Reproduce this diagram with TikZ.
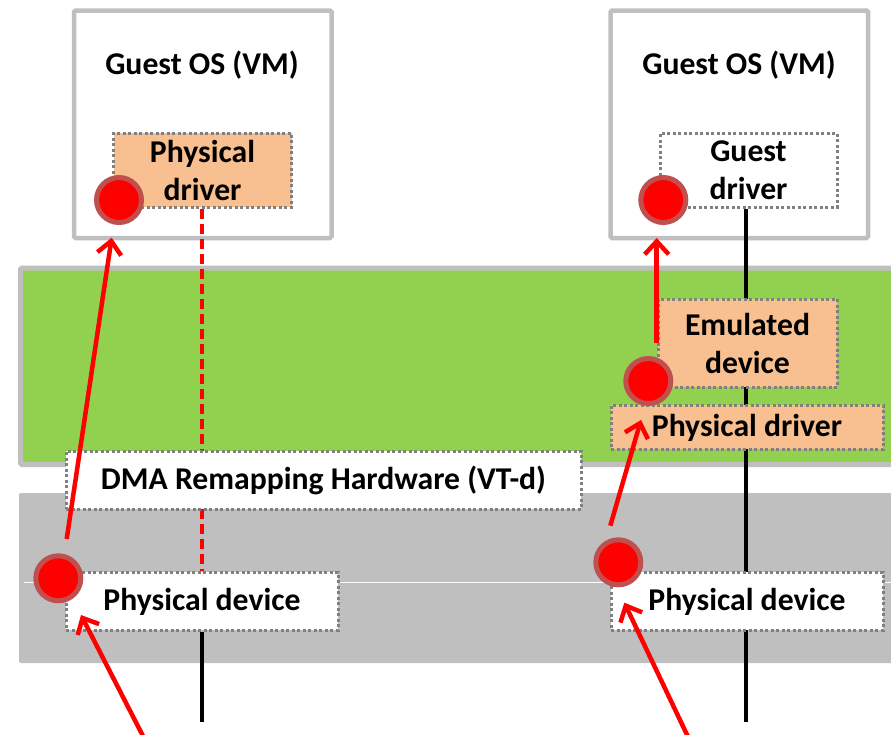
\documentclass[tikz,border=0pt]{standalone}
\usepackage{fontspec}
\setmainfont{Carlito}
\usetikzlibrary{arrows.meta}
\definecolor{bandgreen}{HTML}{92D050}
\definecolor{bandgray}{HTML}{BFBFBF}
\definecolor{boxorange}{HTML}{F8C090}
\definecolor{dotgray}{HTML}{808080}
\definecolor{ringred}{HTML}{C0504D}
\pgfdeclarelayer{bands}
\pgfdeclarelayer{wires}
\pgfsetlayers{bands,wires,main}
\begin{document}
\begin{tikzpicture}[x=1pt,y=-1pt,
  lbl/.style={font=\fontsize{31.7}{38}\selectfont\bfseries, text=black},
  osbox/.style={draw=bandgray, line width=4.5pt, fill=white, rounded corners=1.5pt, inner sep=0pt},
  dotbox/.style={draw=dotgray, line width=3pt, dash pattern=on 3pt off 2.5pt, inner sep=0pt, align=center, lbl},
  oneline/.style={text height=21.5pt, text depth=2pt},
  orangebox/.style={dotbox, fill=boxorange},
  whitebox/.style={dotbox, fill=white},
  reddot/.style={circle, fill=red, draw=ringred, line width=5pt, minimum size=45pt, inner sep=0pt},
  flow/.style={draw=red, line width=4.5pt, -{Straight Barb[length=13pt,width=24pt]}},
  wire/.style={draw=black, line width=4pt},
  dmaline/.style={draw=red, line width=3.5pt, dash pattern=on 10pt off 5pt}
]
\useasboundingbox (0,0) rectangle (891,734);
\begin{pgfonlayer}{bands}
% guest OS boxes
\node[osbox, minimum width=257.5pt, minimum height=227.5pt] (lgos) at (202.75,124.25) {};
\node[osbox, minimum width=257.5pt, minimum height=227.5pt] (rgos) at (739.25,124.25) {};
\node[lbl, anchor=base] (lgost) at (202,74) {Guest OS (VM)};
\node[lbl, anchor=base] (rgost) at (739,74) {Guest OS (VM)};
% bands
\path[draw=bandgray, line width=5pt, fill=bandgreen, rounded corners=1.5pt] (20.5,268) rectangle (905,464.5);
\path[fill=bandgray, rounded corners=2pt] (19,493) rectangle (905,663);
\draw[white, line width=1pt] (24,582) -- (905,582);
\end{pgfonlayer}
% coordinates
\coordinate (lbot) at (202,722);
\coordinate (rbot) at (746,722);
% boxes
\node[orangebox, minimum width=178pt, minimum height=74pt] (lpdrv) at (202.5,170) {Physical\\driver};
\node[whitebox, minimum width=177pt, minimum height=74pt] (gdrv) at (748.5,170) {Guest\\driver};
\node[orangebox, minimum width=179pt, minimum height=88pt] (emu) at (747.5,343) {Emulated\\device};
\node[orangebox, oneline, minimum width=272pt, minimum height=44pt] (rpdrv) at (747,427) {Physical driver};
\node[whitebox, oneline, minimum width=272pt, minimum height=58pt] (ldev) at (202,601) {Physical device};
\node[whitebox, oneline, minimum width=272pt, minimum height=58pt] (rdev) at (747,601) {Physical device};
\node[whitebox, oneline, minimum width=515pt, minimum height=58pt] (dma) at (323.5,480) {DMA Remapping Hardware (VT-d)};
% wires under the boxes
\begin{pgfonlayer}{wires}
\draw[dmaline] (lpdrv.south -| lbot) -- (ldev.north -| lbot);
\draw[wire] (ldev.south -| lbot) -- (lbot);
\draw[wire] (gdrv.south -| rbot) -- (rbot);
\end{pgfonlayer}
% dots
\node[reddot] (d1) at (119,200) {};
\node[reddot] (d2) at (663.3,200) {};
\node[reddot] (d3) at (648.3,381) {};
\node[reddot] (d4) at (618.3,562.3) {};
\node[reddot] (d5) at (58.3,578.3) {};
% arrows
\coordinate (a1s) at (66.7,539);
\coordinate (a1e) at (111.7,237.7);
\coordinate (a2s) at (145,740);
\coordinate (a2e) at (81,615);
\coordinate (a3s) at (656.7,343);
\coordinate (a3e) at (656.7,238);
\coordinate (a4s) at (610.3,525.7);
\coordinate (a4e) at (641,420);
\coordinate (a5s) at (689.5,740);
\coordinate (a5e) at (624.3,602.7);
\draw[flow] (a1s) -- (a1e);
\draw[flow] (a2s) -- (a2e);
\draw[flow] (a3s) -- (a3e);
\draw[flow] (a4s) -- (a4e);
\draw[flow] (a5s) -- (a5e);
\end{tikzpicture}
\end{document}
